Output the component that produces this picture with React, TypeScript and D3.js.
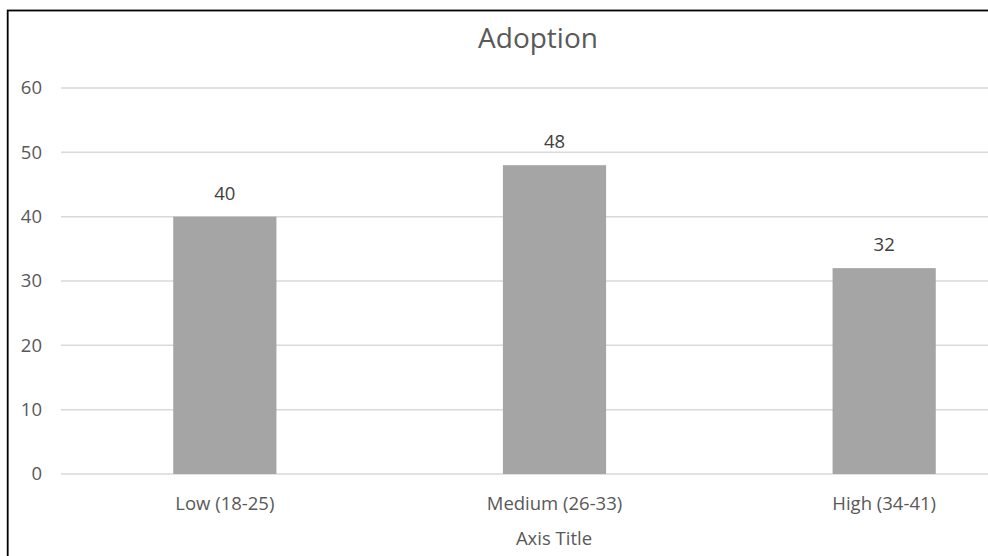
import React from "react";
import * as d3 from "d3";

const categories = ["Low (18-25)", "Medium (26-33)", "High (34-41)"];
const values = [40, 48, 32];
const yTicks = [0, 10, 20, 30, 40, 50, 60];
const chartTitle = "Adoption";
const xAxisTitle = "Axis Title";

const W = 988;
const H = 556;
const FONT = "'Open Sans', 'Noto Sans', sans-serif";

export default function App() {
  const x = d3.scaleBand<string>().domain(categories).range([60, 1049]).padding(0);
  const y = d3.scaleLinear().domain([0, 60]).range([474, 88]);
  const barW = x.bandwidth() * 0.313;

  return (
    <svg
      width={W}
      height={H}
      style={{ position: "absolute", left: 0, top: 0, background: "#fff" }}
      fontFamily={FONT}
    >
      <rect x={0} y={0} width={W} height={H} fill="#fff" />
      <rect x={7.7} y={10.5} width={W + 50} height={H + 50} fill="none" stroke="#000" strokeWidth={1.8} />
      <text x={538} y={48} textAnchor="middle" fontSize={28} fill="#595959">
        {chartTitle}
      </text>
      {yTicks.map((t) => (
        <g key={t}>
          <line x1={61} x2={W} y1={y(t)} y2={y(t)} stroke="#D9D9D9" strokeWidth={1.5} />
          <text x={42} y={y(t)} dy="0.35em" textAnchor="end" fontSize={18.5} fill="#595959">
            {t}
          </text>
        </g>
      ))}
      {categories.map((c, i) => {
        const cx = (x(c) as number) + x.bandwidth() / 2;
        return (
          <g key={c}>
            <rect x={cx - barW / 2} y={y(values[i])} width={barW} height={y(0) - y(values[i])} fill="#A5A5A5" />
            <text x={cx} y={y(values[i]) - 17} textAnchor="middle" fontSize={18.5} fill="#404040">
              {values[i]}
            </text>
            <text x={cx} y={510} textAnchor="middle" fontSize={18.5} fill="#595959">
              {c}
            </text>
          </g>
        );
      })}
      <text x={554} y={545} textAnchor="middle" fontSize={18.5} fill="#595959">
        {xAxisTitle}
      </text>
    </svg>
  );
}
